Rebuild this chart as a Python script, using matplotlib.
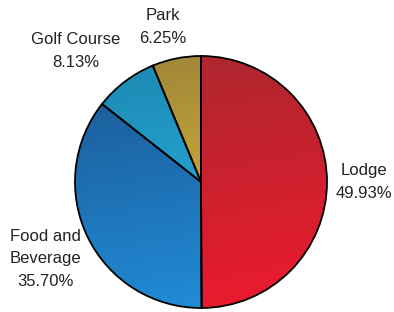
import numpy as np
import matplotlib.pyplot as plt
from matplotlib.colors import LinearSegmentedColormap

# Chart data
categories = ['Lodge', 'Food and\nBeverage', 'Golf Course', 'Park']
shares = [49.93, 35.70, 8.13, 6.25]
# dark (top) / light (bottom) colours for each slice
dark_colors = ['#a8282e', '#1b5590', '#1c86b0', '#9c8438']
light_colors = ['#ee1a2e', '#2190dc', '#2cbcee', '#f0c43a']

plt.rcParams['font.family'] = ['Liberation Sans', 'DejaVu Sans']

fig = plt.figure(figsize=(3.94, 3.12), dpi=100)
cx, cy, r = 201, 182, 126
ax = fig.add_axes([(cx - r) / 394, (312 - cy - r) / 312, 2 * r / 394, 2 * r / 312])

wedges, _ = ax.pie(shares, startangle=90, counterclock=False, radius=1,
                   wedgeprops=dict(facecolor='none', edgecolor='black', linewidth=1.3))

# shade each slice with a top-to-bottom gradient, clipped to the wedge
yy, xx = np.mgrid[1:-1:200j, -1:1:200j]
grad = (1 - yy) / 2 * 0.85 + (xx + 1) / 2 * 0.15
for w, c0, c1 in zip(wedges, dark_colors, light_colors):
    cmap = LinearSegmentedColormap.from_list('g', [c0, c1])
    im = ax.imshow(grad, cmap=cmap, extent=[-1, 1, -1, 1], origin='upper',
                   zorder=0, interpolation='bilinear')
    im.set_clip_path(w)
ax.set_xlim(-1, 1)
ax.set_ylim(-1, 1)
ax.set_aspect('equal')
ax.axis('off')

def to_data(px, py):
    return (px - cx) / r, (cy - py) / r

# labels: name + percentage
label_pos = [(364, 182), (45, 259), (76, 51), (163, 27)]
for name, val, (px, py) in zip(categories, shares, label_pos):
    x, y = to_data(px, py)
    ax.text(x, y, f'{name}\n{val:.2f}%', ha='center', va='center',
            fontsize=12, color='#222222', linespacing=1.62, clip_on=False)

fig.savefig('out.png', dpi=100)
